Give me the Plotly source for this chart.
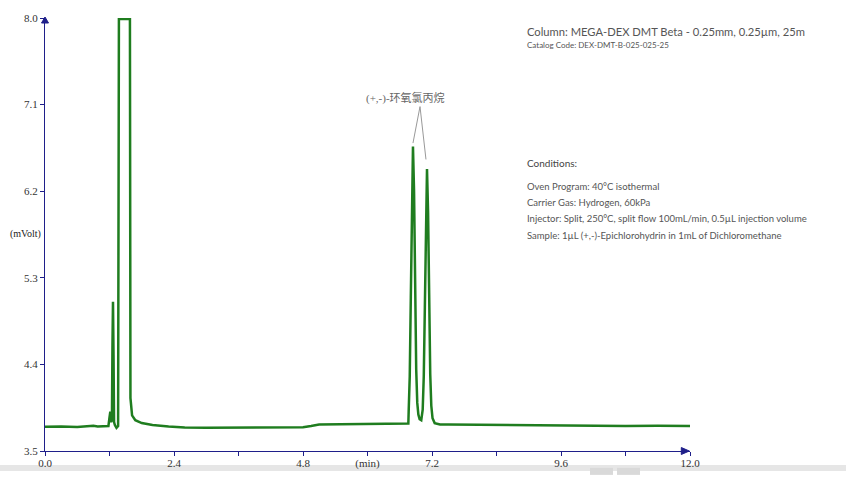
import plotly.graph_objects as go

# ---- data ----
time_min = [0.0, 0.3, 0.6, 0.8, 0.9, 0.98, 1.1, 1.18, 1.2, 1.215, 1.23, 1.245, 1.255, 1.265, 1.275,
            1.285, 1.30, 1.33, 1.36, 1.375, 1.58, 1.59, 1.62, 1.68, 1.8, 2.0, 2.3, 2.6, 3.0, 3.6,
            4.2, 4.6, 4.8, 4.95, 5.1, 5.5, 6.0, 6.5, 6.70, 6.76, 6.766, 6.786, 6.806, 6.826,
            6.846, 6.866, 6.886, 6.906, 6.926, 6.946, 6.97, 7.00, 7.027, 7.047, 7.067, 7.087,
            7.107, 7.127, 7.147, 7.167, 7.187, 7.21, 7.25, 7.35, 7.5, 8.0, 8.4, 9.0, 9.6, 10.2,
            10.8, 11.4, 12.0]
signal_mv = [3.752, 3.755, 3.750, 3.757, 3.762, 3.755, 3.755, 3.760, 3.85, 3.91, 3.80, 3.82, 4.60,
             5.05, 4.50, 3.80, 3.77, 3.74, 3.76, 7.99, 7.99, 4.05, 3.87, 3.82, 3.79, 3.77, 3.755,
             3.745, 3.742, 3.742, 3.745, 3.745, 3.748, 3.760, 3.775, 3.778, 3.780, 3.780, 3.780,
             3.785, 3.91, 4.28, 5.10, 6.15, 6.665, 6.20, 5.18, 4.35, 4.00, 3.88, 3.83, 3.82, 3.93,
             4.28, 4.99, 5.96, 6.43, 5.98, 5.05, 4.30, 3.97, 3.84, 3.79, 3.775, 3.775, 3.772, 3.770,
             3.768, 3.765, 3.762, 3.760, 3.762, 3.760]

x_tick_vals = [0.0, 1.2, 2.4, 3.6, 4.8, 6.0, 7.2, 8.4, 9.6, 10.8, 12.0]
x_tick_text = ["0.0", "", "2.4", "", "4.8", "(min)", "7.2", "", "9.6", "", "12.0"]
y_tick_vals = [3.5, 4.4, 5.3, 6.2, 7.1, 8.0]
y_tick_text = ["3.5", "4.4", "5.3", "6.2", "7.1", "8.0"]

peak_label = "(+,-)-环氧氯丙烷"
column_text = "Column: MEGA-DEX DMT Beta - 0.25mm, 0.25µm, 25m"
catalog_text = "Catalog Code: DEX-DMT-B-025-025-25"
conditions_title = "Conditions:"
conditions_lines = [
    "Oven Program: 40°C isothermal",
    "Carrier Gas: Hydrogen, 60kPa",
    "Injector: Split, 250°C, split flow 100mL/min, 0.5µL injection volume",
    "Sample: 1µL (+,-)-Epichlorohydrin in 1mL of Dichloromethane",
]

AXIS = "#1f1f8a"
SERIF = "Liberation Serif, Times New Roman, serif"
SANS = "Lato, Open Sans, sans-serif"

fig = go.Figure()
fig.add_trace(go.Scatter(x=time_min, y=signal_mv, mode="lines",
                         line=dict(color="#1f7d1f", width=2.5), hoverinfo="skip",
                         showlegend=False))

W, H = 846, 487
L, R, T, B = 45, 690, 16, 451


def px_x(p):
    return (p - L) / (R - L)


def px_y(p):
    return (B - p) / (B - T)


annotations = []
annotations.append(dict(text=peak_label, xref="paper", yref="paper", x=px_x(405), y=px_y(96),
                        showarrow=False, xanchor="center", yanchor="middle",
                        font=dict(family="Liberation Serif, Noto Sans CJK SC", size=11, color="#666666")))
annotations.append(dict(text="(mVolt)", xref="paper", yref="paper", x=px_x(25), y=px_y(233),
                        showarrow=False, xanchor="center", yanchor="middle",
                        font=dict(family=SERIF, size=10, color="#222222")))
annotations.append(dict(text=column_text, xref="paper", yref="paper", x=px_x(525), y=px_y(30),
                        showarrow=False, xanchor="left", yanchor="middle",
                        font=dict(family=SANS, size=11.2, color="#555555")))
annotations.append(dict(text=catalog_text, xref="paper", yref="paper", x=px_x(525), y=px_y(43),
                        showarrow=False, xanchor="left", yanchor="middle",
                        font=dict(family=SANS, size=8, color="#555555")))
annotations.append(dict(text=conditions_title, xref="paper", yref="paper", x=px_x(525), y=px_y(162),
                        showarrow=False, xanchor="left", yanchor="middle",
                        font=dict(family=SANS, size=10, color="#444444")))
for i, line in enumerate(conditions_lines):
    annotations.append(dict(text=line, xref="paper", yref="paper", x=px_x(525), y=px_y(185 + 16.4 * i),
                            showarrow=False, xanchor="left", yanchor="middle",
                            font=dict(family=SANS, size=9.5, color="#555555")))

shapes = [
    # leader lines from label to the two peaks
    dict(type="line", xref="x", yref="y", x0=6.977, y0=7.079, x1=6.846, y1=6.70,
         line=dict(color="#999999", width=1)),
    dict(type="line", xref="x", yref="y", x0=6.977, y0=7.079, x1=7.088, y1=6.53,
         line=dict(color="#999999", width=1)),
    # axis arrowheads
    dict(type="path", xref="paper", yref="paper", xsizemode="pixel", ysizemode="pixel",
         xanchor=0, yanchor=1, path="M -3.5 -5 L 3.5 -5 L 0 1 Z",
         fillcolor=AXIS, line=dict(color=AXIS, width=1)),
    dict(type="path", xref="x", yref="paper", xsizemode="pixel", ysizemode="pixel",
         xanchor=11.95, yanchor=0, path="M -6 3.5 L -6 -3.5 L 2 0 Z",
         fillcolor=AXIS, line=dict(color=AXIS, width=1)),
    # grey strip at the bottom of the screenshot
    dict(type="rect", xref="paper", yref="paper", x0=px_x(0), x1=px_x(W), y0=px_y(471), y1=px_y(465),
         fillcolor="#e6e6e6", line=dict(width=0), layer="below"),
    dict(type="rect", xref="paper", yref="paper", x0=px_x(590), x1=px_x(613), y0=px_y(475), y1=px_y(468),
         fillcolor="#d9d9d9", line=dict(width=0), layer="below"),
    dict(type="rect", xref="paper", yref="paper", x0=px_x(617), x1=px_x(640), y0=px_y(475), y1=px_y(468),
         fillcolor="#d9d9d9", line=dict(width=0), layer="below"),
]

fig.update_layout(
    width=W, height=H,
    margin=dict(l=L, r=W - R, t=T, b=H - B, pad=0),
    paper_bgcolor="white", plot_bgcolor="white",
    annotations=annotations, shapes=shapes,
    xaxis=dict(range=[0, 12], tickmode="array", tickvals=x_tick_vals, ticktext=x_tick_text,
               showgrid=False, zeroline=False, showline=True, linecolor=AXIS, linewidth=1.3,
               ticks="outside", ticklen=4, tickcolor=AXIS, tickwidth=1, ticklabelstandoff=-2,
               tickfont=dict(family=SERIF, size=11, color="#333333")),
    yaxis=dict(range=[3.5, 8.0], tickmode="array", tickvals=y_tick_vals, ticktext=y_tick_text,
               showgrid=False, zeroline=False, showline=True, linecolor=AXIS, linewidth=1.3,
               ticks="outside", ticklen=4, tickcolor=AXIS, tickwidth=1,
               tickfont=dict(family=SERIF, size=11, color="#333333")),
)

fig.write_html("out.html", config={"displayModeBar": False},
               post_script="document.body.style.margin='0';document.body.style.overflow='hidden';")
